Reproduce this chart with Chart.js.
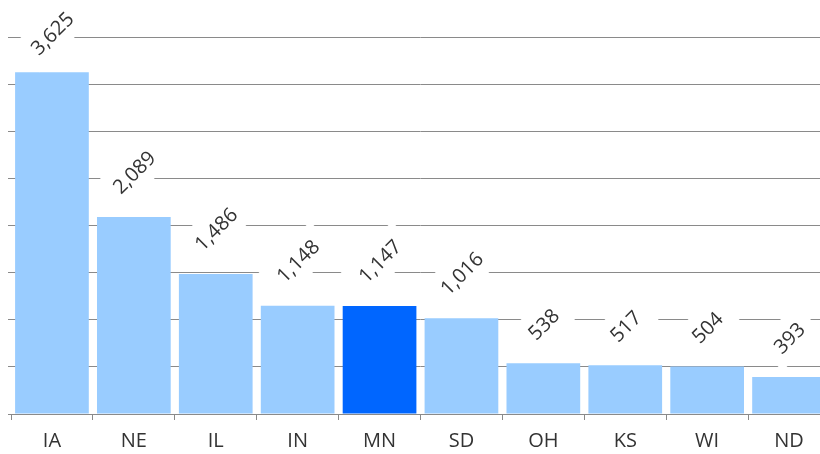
<!DOCTYPE html>
<html>
<head>
<meta charset="utf-8">
<script src="https://cdn.jsdelivr.net/npm/chart.js@4.4.1/dist/chart.umd.min.js"></script>
<style>
  html, body { margin: 0; padding: 0; background: #fff; overflow: hidden; }
  #wrap { position: relative; width: 840px; height: 454px; }
</style>
</head>
<body>
<div id="wrap"><canvas id="c" width="840" height="454"></canvas></div>
<script>
const categories = ['IA', 'NE', 'IL', 'IN', 'MN', 'SD', 'OH', 'KS', 'WI', 'ND'];
const values = [3625, 2089, 1486, 1148, 1147, 1016, 538, 517, 504, 393];
const highlight = 'MN';

const LIGHT = '#99CCFF';
const DARK = '#0066FF';
const TEXT = '#333333';
const GRID = '#8a8a8a';
const FONT = '"Open Sans", "Noto Sans", sans-serif';
const FS = 20;

const rotatedLabels = {
  id: 'rotatedLabels',
  afterDatasetsDraw(chart) {
    const ctx = chart.ctx;
    const meta = chart.getDatasetMeta(0);
    ctx.save();
    ctx.font = FS + 'px ' + FONT;
    const c = FS * 0.72;
    meta.data.forEach((bar, i) => {
      const txt = values[i].toLocaleString('en-US');
      const L = ctx.measureText(txt).width;
      const half = 0.7071 * (L + c) / 2;
      let cy = bar.y - 22 - half;
      if (cy - half < 10) cy = 10 + half;
      const cx = bar.x;
      ctx.save();
      ctx.translate(cx, cy);
      ctx.rotate(-Math.PI / 4);
      ctx.fillStyle = '#ffffff';
      const bw = L + 22, bh = FS * 1.9;
      ctx.fillRect(-bw / 2, -bh / 2, bw, bh);
      ctx.fillStyle = TEXT;
      ctx.textAlign = 'center';
      ctx.textBaseline = 'alphabetic';
      ctx.fillText(txt, 0, c / 2);
      ctx.restore();
    });
    ctx.restore();
  }
};

new Chart(document.getElementById('c'), {
  type: 'bar',
  data: {
    labels: categories,
    datasets: [{
      data: values,
      backgroundColor: categories.map(cat => cat === highlight ? DARK : LIGHT),
      borderWidth: 0,
      barPercentage: 0.9,
      categoryPercentage: 1.0
    }]
  },
  options: {
    responsive: false,
    animation: false,
    events: [],
    layout: { padding: { left: 8, right: 10, top: 37, bottom: 0 } },
    plugins: { legend: { display: false }, tooltip: { enabled: false } },
    scales: {
      x: {
        grid: { drawOnChartArea: false, drawTicks: true, tickLength: 6, color: GRID, offset: true },
        border: { display: true, color: GRID, width: 1 },
        ticks: { color: TEXT, font: { family: FONT, size: FS }, padding: 9, maxRotation: 0 },
        afterFit(s) { s.height = 40; }
      },
      y: {
        min: 0, max: 4000,
        grid: { color: GRID, lineWidth: 1, drawTicks: true, tickLength: 3 },
        border: { display: false },
        ticks: { display: false, stepSize: 500 },
        afterFit(s) { s.width = 3; }
      }
    }
  },
  plugins: [rotatedLabels]
});
</script>
</body>
</html>
